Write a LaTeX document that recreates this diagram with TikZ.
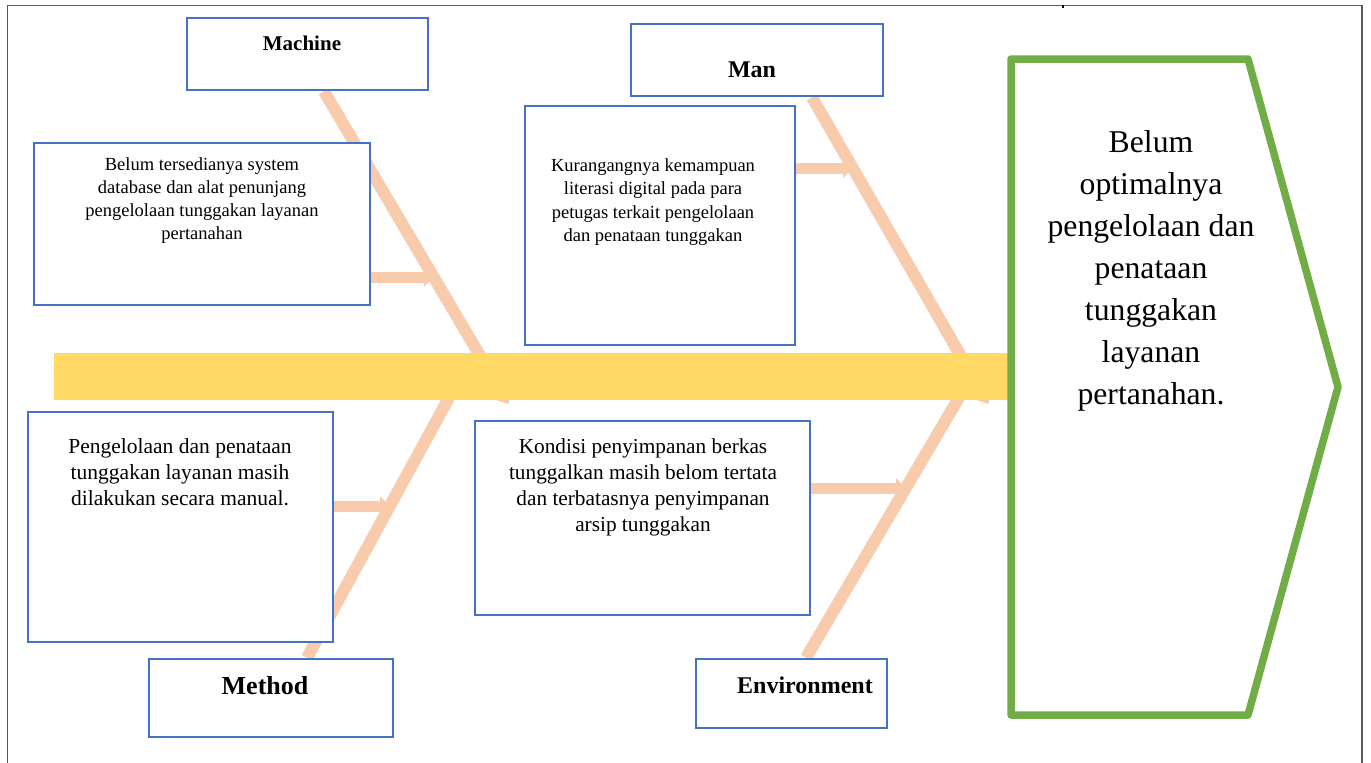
\documentclass[tikz,border=0pt]{standalone}
\usepackage{fontspec}
\setmainfont{Liberation Serif}
\usetikzlibrary{arrows.meta,calc,backgrounds}
\definecolor{boxblue}{HTML}{4472C4}
\definecolor{peach}{HTML}{F8CBAD}
\definecolor{spineyellow}{HTML}{FFD866}
\definecolor{goalgreen}{HTML}{70AD47}
\definecolor{framegray}{HTML}{595959}
\tikzset{
  box/.style={draw=boxblue, line width=2.5pt, fill=white, inner sep=0pt, rectangle},
  lbl/.style={inner sep=0pt, font=\bfseries\fontsize{#1}{#1}\selectfont},
  cause/.style={inner sep=0pt, align=center},
  bone/.style={draw=peach, line width=12pt, -{Triangle[width=24pt,length=14pt]}},
  subbone/.style={draw=peach, line width=11pt, -{Triangle[width=19pt,length=10pt]}},
  spinebar/.style={fill=spineyellow, draw=none, inner sep=0pt, rectangle},
  goal/.style={draw=goalgreen, line width=7.5pt, line join=round},
  frame/.style={draw=framegray, line width=1.3pt}
}
\begin{document}
\begin{tikzpicture}[x=1pt,y=-1pt]
\useasboundingbox (0,0) rectangle (1371,763);

% boxes
\node[box, minimum width=241pt, minimum height=72pt] (machL) at (307.5,54) {};
\node[box, minimum width=336pt, minimum height=162pt] (machC) at (202,224) {};
\node[box, minimum width=252pt, minimum height=72pt] (manL) at (757,60) {};
\node[box, minimum width=270pt, minimum height=239pt] (manC) at (660,225.5) {};
\node[box, minimum width=305pt, minimum height=230pt] (methC) at (180.5,527) {};
\node[box, minimum width=244pt, minimum height=78pt] (methL) at (271,698) {};
\node[box, minimum width=335pt, minimum height=194pt] (envC) at (642.5,518) {};
\node[box, minimum width=191pt, minimum height=69pt] (envL) at (791.5,693.5) {};

% end points on the spine / bones
\coordinate (machEnd) at (508.5,404);
\coordinate (manEnd) at (988.5,404);
\coordinate (methEnd) at (463,372);
\coordinate (envEnd) at (974,372);
\coordinate (machJoin) at (434,277);
\coordinate (manJoin) at (853,168);
\coordinate (methJoin) at (390,506);
\coordinate (envJoin) at (906,488);

\begin{scope}[on background layer]
% main bones
\draw[bone] ($(machL.south)+(16.5,0)$) -- (machEnd);
\draw[bone] ($(manL.south)+(55,0)$) -- (manEnd);
\draw[bone] ($(methL.north)+(36,0)$) -- (methEnd);
\draw[bone] ($(envL.north)+(14.5,0)$) -- (envEnd);
% sub bones
\draw[subbone] ($(machC.east)+(0,53)$) -- (machJoin);
\draw[subbone] ($(manC.east)+(0,-57.5)$) -- (manJoin);
\draw[subbone] ($(methC.east)+(0,-21)$) -- (methJoin);
\draw[subbone] ($(envC.east)+(0,-30)$) -- (envJoin);
% spine
\node[spinebar, minimum width=954pt, minimum height=47pt] (spine) at (531,376) {};
\end{scope}

% labels
\node[lbl=21] (machT) at (302,43) {Machine};
\node[lbl=24] (manT) at (752,70) {Man};
\node[lbl=26] (methT) at (265,686) {Method};
\node[lbl=24] (envT) at (805,685) {Environment};

% causes
\node[cause, font=\fontsize{18.5}{23}\selectfont] (machTx) at (202,201)
  {Belum tersedianya system\\database dan alat penunjang\\pengelolaan tunggakan layanan\\pertanahan};
\node[cause, font=\fontsize{18.5}{23.3}\selectfont] (manTx) at (653,202)
  {Kurangangnya kemampuan\\literasi digital pada para\\petugas terkait pengelolaan\\dan penataan tunggakan};
\node[cause, font=\fontsize{21.5}{26}\selectfont] (methTx) at (180,472)
  {Pengelolaan dan penataan\\tunggakan layanan masih\\dilakukan secara manual.};
\node[cause, font=\fontsize{21.3}{26}\selectfont] (envTx) at (643,487)
  {Kondisi penyimpanan berkas\\tunggalkan masih belom tertata\\dan terbatasnya penyimpanan\\arsip tunggakan};

% goal chevron
\draw[goal] (1011,59) -- (1248,59) -- (1338,387) -- (1248,715) -- (1011,715) -- cycle;
\node[cause, font=\fontsize{31.7}{42}\selectfont] (goalTx) at (1151,271)
  {Belum\\optimalnya\\pengelolaan dan\\penataan\\tunggakan\\layanan\\pertanahan.};

% page frame
\draw[frame] (7.5,763) -- (7.5,5.7) -- (1362,5.7) -- (1362,763);
\draw[black, line width=1.2pt] (1063,4.5) -- (1063,7.5);
\end{tikzpicture}
\end{document}
